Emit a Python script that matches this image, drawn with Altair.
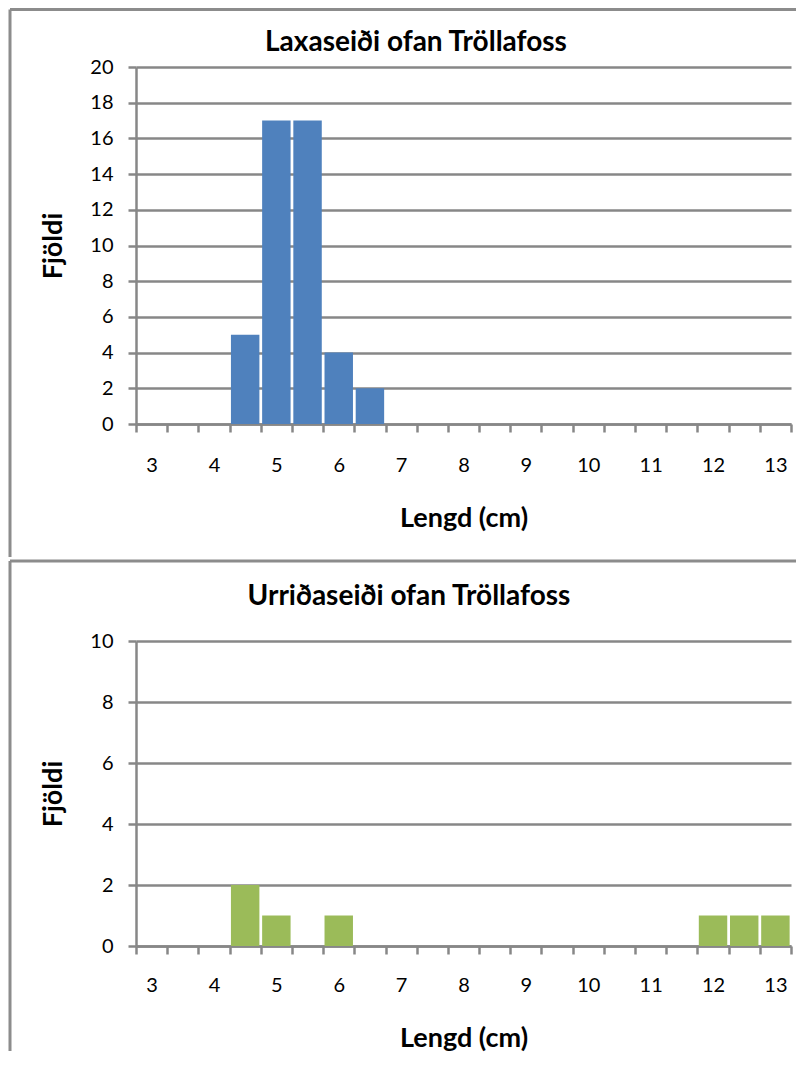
import altair as alt
import pandas as pd

# ---- data ----
lengths = [3.0, 3.5, 4.0, 4.5, 5.0, 5.5, 6.0, 6.5, 7.0, 7.5, 8.0, 8.5, 9.0,
           9.5, 10.0, 10.5, 11.0, 11.5, 12.0, 12.5, 13.0]
lax_counts = [0, 0, 0, 5, 17, 17, 4, 2, 0, 0, 0, 0, 0, 0, 0, 0, 0, 0, 0, 0, 0]
urr_counts = [0, 0, 0, 2, 1, 0, 1, 0, 0, 0, 0, 0, 0, 0, 0, 0, 0, 0, 1, 1, 1]
lax_y_ticks = [0, 2, 4, 6, 8, 10, 12, 14, 16, 18, 20]
urr_y_ticks = [0, 2, 4, 6, 8, 10]
lax_title = "Laxaseiði ofan Tröllafoss"
urr_title = "Urriðaseiði ofan Tröllafoss"
x_title = "Lengd (cm)"
y_title = "Fjöldi"

half_bin = 0.25
edges = [v - half_bin for v in lengths] + [lengths[-1] + half_bin]

FONT = "Lato"
GRID = "#878787"
BORDER = "#8c8c8c"
W = 655
BAND = W / len(lengths)


def panel(counts, yticks, ymax, color, title, H, title_pos, xlab_pad, rules):
    df = pd.DataFrame({"len": lengths, "count": counts})
    df = df[df["count"] > 0]
    bars = (
        alt.Chart(df)
        .transform_calculate(lo="datum.len - 0.228", hi="datum.len + 0.228")
        .mark_bar(color=color)
        .encode(
            x=alt.X(
                "lo:Q",
                scale=alt.Scale(domain=[edges[0], edges[-1]], nice=False, zero=False),
                axis=alt.Axis(
                    values=edges,
                    # label each integer category at its right edge, shifted back half a band
                    labelExpr="(datum.value - 3.25) % 1 == 0 ? format(datum.value - 0.25, 'd') : ''",
                    labelOffset=-BAND / 2,
                    labelFlush=False,
                    labelOverlap=False,
                    grid=False,
                    tickSize=8,
                    tickColor=GRID,
                    tickWidth=2.5,
                    domainColor=GRID,
                    domainWidth=2.5,
                    labelFont=FONT,
                    labelFontSize=20,
                    labelColor="black",
                    labelPadding=xlab_pad,
                    title=x_title,
                    titleFont=FONT,
                    titleFontSize=27,
                    titleFontWeight="bold",
                    titleColor="black",
                    titlePadding=30,
                ),
            ),
            x2="hi:Q",
            y=alt.Y(
                "count:Q",
                scale=alt.Scale(domain=[0, ymax], nice=False),
                axis=alt.Axis(
                    values=yticks,
                    format="d",
                    grid=True,
                    gridColor=GRID,
                    gridWidth=2.5,
                    tickSize=8,
                    tickColor=GRID,
                    tickWidth=2.5,
                    domainColor=GRID,
                    domainWidth=2.5,
                    labelFont=FONT,
                    labelFontSize=20,
                    labelColor="black",
                    labelPadding=15,
                    title=y_title,
                    titleFont=FONT,
                    titleFontSize=27,
                    titleFontWeight="bold",
                    titleColor="black",
                    titlePadding=22,
                ),
            ),
            y2=alt.datum(0),
        )
    )
    one = pd.DataFrame({"k": [0]})
    layers = [bars]
    for r in rules:
        enc = {k: alt.value(v) for k, v in r.items()}
        layers.append(alt.Chart(one).mark_rule(color=BORDER, strokeWidth=3).encode(**enc))
    layers.append(
        alt.Chart(one)
        .mark_text(
            text=title,
            font=FONT,
            fontSize=28,
            fontWeight="bold",
            color="black",
            align="center",
            baseline="alphabetic",
        )
        .encode(x=alt.value(title_pos[0]), y=alt.value(title_pos[1]))
    )
    return alt.layer(*layers).properties(width=W, height=H)


top = panel(
    lax_counts, lax_y_ticks, 20, "#4F81BD", lax_title, 357, (280, -16), 23,
    [
        {"x": -126, "y": -57.5, "y2": 490},
        {"x": -126, "x2": 660, "y": -57.5},
    ],
)
bottom = panel(
    urr_counts, urr_y_ticks, 10, "#9BBB59", urr_title, 305, (273, -36), 21,
    [
        {"x": -126, "x2": 660, "y": -80},
        {"x": -126, "y": -80, "y2": 410},
    ],
)

chart = (
    alt.vconcat(top, bottom, spacing=0)
    .properties(padding=0, background="white")
    .configure_view(strokeOpacity=0)
)

chart.save("out.html", embed_options={"renderer": "svg", "actions": False})
